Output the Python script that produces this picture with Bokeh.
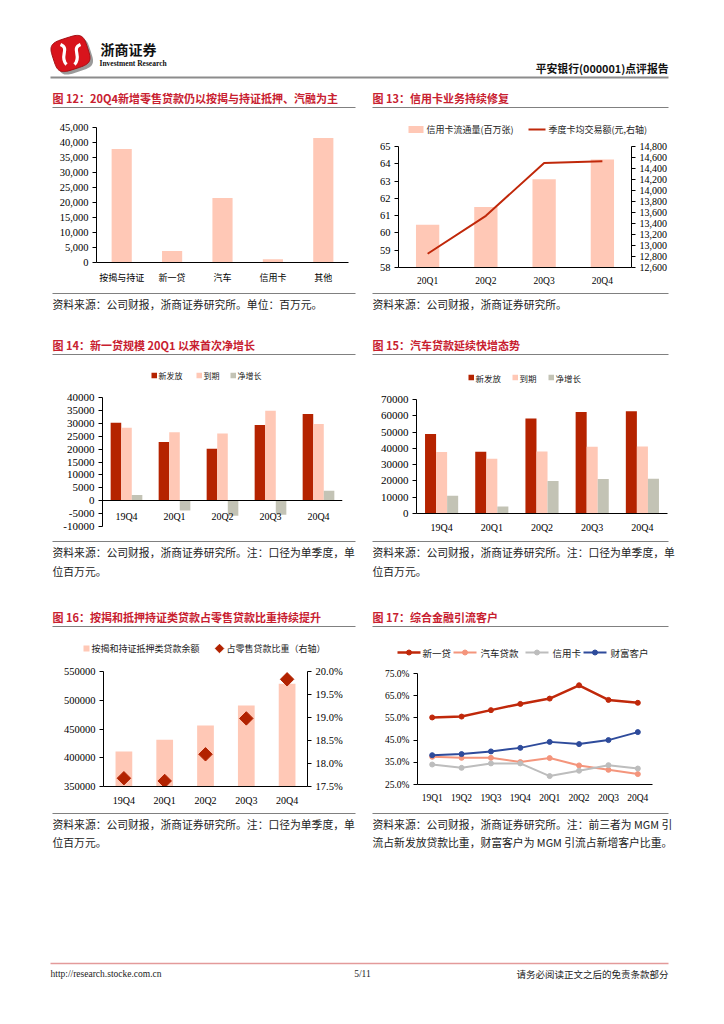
import numpy as np
from bokeh.plotting import figure
from bokeh.layouts import column, row
from bokeh.models import (Range1d, FactorRange, LinearAxis, ColumnDataSource,
                          SingleIntervalTicker, FixedTicker, NumeralTickFormatter, PrintfTickFormatter)
from bokeh.transform import dodge
from bokeh.core.properties import value
from bokeh.embed import file_html
from bokeh.resources import INLINE

CJK = "Noto Sans CJK SC"
SERIF = "Liberation Serif"
TITLE_RED = "#C8202F"
PINK = "#FFC8B6"
DARK_RED = "#B52300"
GRAY_BAR = "#C3C3B5"
RULE = "#808080"
LINE_RED = "#C0280A"

# ---------------- data ----------------
cats12 = ["按揭与持证", "新一贷", "汽车", "信用卡", "其他"]
vals12 = [37800, 3800, 21500, 1100, 41500]

cats13 = ["20Q1", "20Q2", "20Q3", "20Q4"]
cards13 = [60.47, 61.5, 63.1, 64.25]
spend13 = [12850, 13540, 14500, 14530]

quarters = ["19Q4", "20Q1", "20Q2", "20Q3", "20Q4"]
new14 = [30200, 22800, 20100, 29300, 33600]
due14 = [28300, 26500, 26000, 34900, 29700]
net14 = [2200, -3800, -5800, -5400, 3900]

new15 = [48800, 37900, 58300, 62400, 62800]
due15 = [37700, 33600, 38100, 41000, 41200]
net15 = [10900, 4300, 20000, 21200, 21400]

bal16 = [410900, 431200, 456100, 490900, 528600]
ratio16 = [17.68, 17.62, 18.20, 18.98, 19.83]

cats17 = ["19Q1", "19Q2", "19Q3", "19Q4", "20Q1", "20Q2", "20Q3", "20Q4"]
xyd17 = [55.2, 55.6, 58.5, 61.3, 63.7, 69.7, 63.1, 61.8]
car17 = [37.5, 37.0, 37.0, 35.1, 36.9, 33.6, 31.6, 29.7]
card17 = [34.0, 32.5, 34.5, 34.5, 28.8, 31.2, 33.7, 32.2]
wealth17 = [38.2, 38.7, 39.9, 41.5, 44.2, 43.2, 45.0, 48.6]

# ---------------- helpers ----------------
def band(x0, x1, y0, y1):
    p = figure(width=x1 - x0, height=y1 - y0, x_range=Range1d(x0, x1), y_range=Range1d(y1, y0),
               output_backend="svg", toolbar_location=None, min_border=0,
               x_axis_location=None, y_axis_location=None, frame_align=False)
    p.grid.visible = False
    p.outline_line_color = None
    return p


def txt(p, x, y, s, size, color="#222222", font=CJK, align="left", style="normal"):
    p.text(x=[x], y=[y], text=[s], text_font=value(font), text_font_size=size,
           text_color=color, text_align=align, text_baseline="middle", text_font_style=style)


def hline(p, x0, x1, y, color=RULE, width=1.2):
    p.line(x=[x0, x1], y=[y, y], line_color=color, line_width=width)


def swatch(p, x, y, w, h, color):
    p.quad(left=[x], right=[x + w], top=[y - h / 2], bottom=[y + h / 2],
           fill_color=color, line_color=None)


def chart(width, height, x_range, y_range, left, right, top, bottom):
    p = figure(width=width, height=height, x_range=x_range, y_range=y_range,
               output_backend="svg", toolbar_location=None,
               min_border_left=left, min_border_right=right,
               min_border_top=top, min_border_bottom=bottom, frame_align=False)
    p.grid.visible = False
    p.outline_line_color = None
    return p


def style_axis(ax, size="10.5px", font=SERIF, ticks=True):
    ax.axis_line_color = "#000000"
    ax.axis_line_width = 1
    ax.major_tick_line_color = "#000000" if ticks else None
    ax.major_tick_out = 4
    ax.major_tick_in = 0
    ax.minor_tick_line_color = None
    ax.major_label_text_font = font
    ax.major_label_text_font_size = size
    ax.major_label_text_color = "#000000"
    ax.major_label_standoff = 4

# ---------------- header band ----------------
hdr = band(0, 724, 0, 82)
t = np.linspace(0, 2 * np.pi, 80)
n = 4.0
sx = np.sign(np.cos(t)) * np.abs(np.cos(t)) ** (2 / n) * 18
sy = np.sign(np.sin(t)) * np.abs(np.sin(t)) ** (2 / n) * 16
ang = np.deg2rad(-18)
rx = sx * np.cos(ang) - sy * np.sin(ang)
ry = sx * np.sin(ang) + sy * np.cos(ang)
hdr.patch(x=list(rx + 73), y=list(ry + 56), fill_color="#9A9A9A", line_color=None)
hdr.patch(x=list(rx + 70), y=list(ry + 53), fill_color="#D8141C", line_color="#A50F14", line_width=1)
hdr.bezier(x0=[60, 80], y0=[44, 44], x1=[66, 74], y1=[64, 64],
           cx0=[70, 70], cy0=[48, 48], cx1=[58, 82], cy1=[56, 56],
           line_color="white", line_width=3.2)
txt(hdr, 100, 48, "浙商证券", "14px", color="#111111", style="bold")
txt(hdr, 99, 63, "Investment Research", "7.5px", color="#111111", font=SERIF, style="bold")
txt(hdr, 668, 67, "平安银行(000001)点评报告", "10.8px", color="#111111", align="right", style="bold")
hline(hdr, 50, 668, 77, color="#8C8C8C", width=2)

# ---------------- left column ----------------
L1 = band(0, 364, 82, 118)
txt(L1, 52, 97, "图 12：20Q4新增零售贷款仍以按揭与持证抵押、汽融为主", "11px", color=TITLE_RED, style="bold")
hline(L1, 52, 355, 107)

p12 = chart(364, 170, FactorRange(factors=cats12), Range1d(0, 45000), 96, 16, 9, 26)
p12.vbar(x=cats12, top=vals12, width=0.4, fill_color=PINK, line_color=None)
style_axis(p12.yaxis[0])
p12.yaxis.ticker = SingleIntervalTicker(interval=5000)
p12.yaxis.formatter = NumeralTickFormatter(format="0,0")
style_axis(p12.xaxis[0], size="9px", font=CJK, ticks=False)

L2 = band(0, 364, 288, 385)
hline(L2, 52, 355, 293)
txt(L2, 52, 303, "资料来源：公司财报，浙商证券研究所。单位：百万元。", "10.8px")
txt(L2, 52, 344, "图 14：新一贷规模 20Q1 以来首次净增长", "11px", color=TITLE_RED, style="bold")
hline(L2, 52, 355, 354)
for lx, tx, lab, col in [(151, 158, "新发放", DARK_RED), (196, 203, "到期", PINK), (230, 237, "净增长", GRAY_BAR)]:
    swatch(L2, lx, 375, 5.5, 5.5, col)
    txt(L2, tx, 375, lab, "8px")

src14 = ColumnDataSource(dict(q=quarters, new=new14, due=due14, net=net14))
p14 = chart(364, 150, FactorRange(factors=quarters), Range1d(-10000, 40000), 102, 22, 12, 9)
p14.vbar(x=dodge("q", -0.22, range=p14.x_range), top="new", width=0.22, source=src14,
         fill_color=DARK_RED, line_color=None)
p14.vbar(x=dodge("q", 0.0, range=p14.x_range), top="due", width=0.22, source=src14,
         fill_color=PINK, line_color=None)
p14.vbar(x=dodge("q", 0.22, range=p14.x_range), top="net", width=0.22, source=src14,
         fill_color=GRAY_BAR, line_color=None)
style_axis(p14.yaxis[0], size="11px")
p14.yaxis[0].ticker = SingleIntervalTicker(interval=5000)
p14.yaxis[0].formatter = NumeralTickFormatter(format="0")
style_axis(p14.xaxis[0], size="10px", ticks=False)
p14.xaxis[0].fixed_location = 0
p14.xaxis[0].major_label_standoff = 6

L3 = band(0, 364, 535, 658)
hline(L3, 52, 355, 541)
txt(L3, 52, 551, "资料来源：公司财报，浙商证券研究所。注：口径为单季度，单", "10.8px")
txt(L3, 52, 570, "位百万元。", "10.8px")
txt(L3, 52, 616, "图 16：按揭和抵押持证类贷款占零售贷款比重持续提升", "11px", color=TITLE_RED, style="bold")
hline(L3, 52, 355, 626)
swatch(L3, 83, 648, 6, 6, PINK)
txt(L3, 91, 648, "按揭和持证抵押类贷款余额", "9px")
L3.scatter(x=[219], y=[648], marker="square", angle=np.pi / 4, size=6,
           fill_color="#B22200", line_color="#B22200")
txt(L3, 226, 648, "占零售贷款比重（右轴）", "9px")

p16 = chart(364, 150, FactorRange(factors=quarters), Range1d(350000, 550000), 103, 57, 13, 22)
p16.extra_y_ranges = {"right": Range1d(17.5, 20.0)}
p16.vbar(x=quarters, top=bal16, bottom=350000, width=0.41, fill_color=PINK, line_color=None)
p16.scatter(x=quarters, y=ratio16, y_range_name="right", marker="square", angle=np.pi / 4,
            size=9.5, fill_color="#B22200", line_color="#B22200")
style_axis(p16.yaxis[0], size="10.5px")
p16.yaxis[0].ticker = SingleIntervalTicker(interval=50000)
p16.yaxis[0].formatter = NumeralTickFormatter(format="0")
ax16r = LinearAxis(y_range_name="right", ticker=SingleIntervalTicker(interval=0.5),
                   formatter=PrintfTickFormatter(format="%.1f%%"))
style_axis(ax16r)
p16.add_layout(ax16r, "right")
style_axis(p16.xaxis[0], size="10px", ticks=False)

L4 = band(0, 364, 808, 850)
hline(L4, 52, 355, 813)
txt(L4, 52, 823, "资料来源：公司财报，浙商证券研究所。注：口径为单季度，单", "10.8px")
txt(L4, 52, 841, "位百万元。", "10.8px")

# ---------------- right column ----------------
R1 = band(364, 724, 82, 138)
txt(R1, 372, 97, "图 13：信用卡业务持续修复", "11px", color=TITLE_RED, style="bold")
hline(R1, 372, 668, 107)
swatch(R1, 408, 129, 15, 7, PINK)
txt(R1, 426, 129, "信用卡流通量(百万张)", "9px")
R1.line(x=[528, 545], y=[129, 129], line_color=LINE_RED, line_width=2)
txt(R1, 548, 129, "季度卡均交易额(元,右轴)", "9px")

p13 = chart(360, 150, FactorRange(factors=cats13), Range1d(58, 65), 34, 93, 8, 20)
p13.extra_y_ranges = {"right": Range1d(12600, 14800)}
p13.vbar(x=cats13, top=cards13, bottom=58, width=0.4, fill_color=PINK, line_color=None)
p13.line(x=cats13, y=spend13, y_range_name="right", line_color=LINE_RED, line_width=2)
style_axis(p13.yaxis[0])
p13.yaxis[0].ticker = SingleIntervalTicker(interval=1)
ax13r = LinearAxis(y_range_name="right", ticker=SingleIntervalTicker(interval=200),
                   formatter=NumeralTickFormatter(format="0,0"))
style_axis(ax13r, size="10px")
p13.add_layout(ax13r, "right")
style_axis(p13.xaxis[0], size="9.5px", ticks=False)

R2 = band(364, 724, 288, 388)
hline(R2, 372, 668, 293)
txt(R2, 372, 303, "资料来源：公司财报，浙商证券研究所。", "10.8px")
txt(R2, 372, 344, "图 15：汽车贷款延续快增态势", "11px", color=TITLE_RED, style="bold")
hline(R2, 372, 668, 354)
for lx, tx, lab, col in [(468, 475, "新发放", DARK_RED), (512, 519, "到期", PINK), (548, 555, "净增长", GRAY_BAR)]:
    swatch(R2, lx, 377, 5.5, 5.5, col)
    txt(R2, tx, 377, lab, "8.5px")

src15 = ColumnDataSource(dict(q=quarters, new=new15, due=due15, net=net15))
p15 = chart(360, 147, FactorRange(factors=quarters), Range1d(0, 70000), 52, 57, 11, 22)
p15.vbar(x=dodge("q", -0.22, range=p15.x_range), top="new", width=0.22, source=src15,
         fill_color=DARK_RED, line_color=None)
p15.vbar(x=dodge("q", 0.0, range=p15.x_range), top="due", width=0.22, source=src15,
         fill_color=PINK, line_color=None)
p15.vbar(x=dodge("q", 0.22, range=p15.x_range), top="net", width=0.22, source=src15,
         fill_color=GRAY_BAR, line_color=None)
style_axis(p15.yaxis[0], size="11px")
p15.yaxis[0].ticker = SingleIntervalTicker(interval=10000)
p15.yaxis[0].formatter = NumeralTickFormatter(format="0")
style_axis(p15.xaxis[0], size="10px", ticks=False)

R3 = band(364, 724, 535, 660)
hline(R3, 372, 668, 541)
txt(R3, 372, 551, "资料来源：公司财报，浙商证券研究所。注：口径为单季度，单", "10.8px")
txt(R3, 372, 570, "位百万元。", "10.8px")
txt(R3, 372, 616, "图 17：综合金融引流客户", "11px", color=TITLE_RED, style="bold")
hline(R3, 372, 668, 626)

series17 = [("新一贷", xyd17, LINE_RED, 2.5, 397, 422),
            ("汽车贷款", car17, "#F4957C", 2, 453, 480),
            ("信用卡", card17, "#BDBDBD", 2, 525, 552),
            ("财富客户", wealth17, "#2E4B9B", 2, 583, 610)]
for name, vals, col, lw, lx, tx in series17:
    R3.line(x=[lx, lx + 23], y=[652, 652], line_color=col, line_width=lw)
    R3.scatter(x=[lx + 11.5], y=[652], marker="circle", size=5, fill_color=col, line_color=col)
    txt(R3, tx, 652, name, "9.5px")

p17 = chart(360, 148, FactorRange(factors=cats17), Range1d(25, 75), 53, 72, 13, 24)
for name, vals, col, lw, lx, tx in series17:
    p17.line(x=cats17, y=vals, line_color=col, line_width=lw)
    p17.scatter(x=cats17, y=vals, marker="circle", size=5, fill_color=col, line_color=col)
style_axis(p17.yaxis[0], size="9.5px")
p17.yaxis[0].ticker = FixedTicker(ticks=[25, 35, 45, 55, 65, 75])
p17.yaxis[0].formatter = PrintfTickFormatter(format="%.1f%%")
style_axis(p17.xaxis[0], size="9.5px", ticks=False)

R4 = band(364, 724, 808, 850)
hline(R4, 372, 668, 813)
txt(R4, 372, 823, "资料来源：公司财报，浙商证券研究所。注：前三者为 MGM 引", "10.8px")
txt(R4, 372, 841, "流占新发放贷款比重，财富客户为 MGM 引流占新增客户比重。", "10.8px")

# ---------------- footer band ----------------
ftr = band(0, 724, 850, 1024)
hline(ftr, 50, 668, 963, color="#E39A9A", width=1.5)
txt(ftr, 50, 973, "http://research.stocke.com.cn", "9.5px", color="#222222", font=SERIF)
txt(ftr, 362, 973, "5/11", "9.5px", color="#222222", font=SERIF, align="center")
txt(ftr, 668, 973, "请务必阅读正文之后的免责条款部分", "9.5px", color="#222222", align="right")

left_col = column(L1, p12, L2, p14, L3, p16, L4)
right_col = column(R1, p13, R2, p15, R3, p17, R4)
layout = column(hdr, row(left_col, right_col), ftr)
open("out.html", "w").write(file_html(layout, INLINE))
